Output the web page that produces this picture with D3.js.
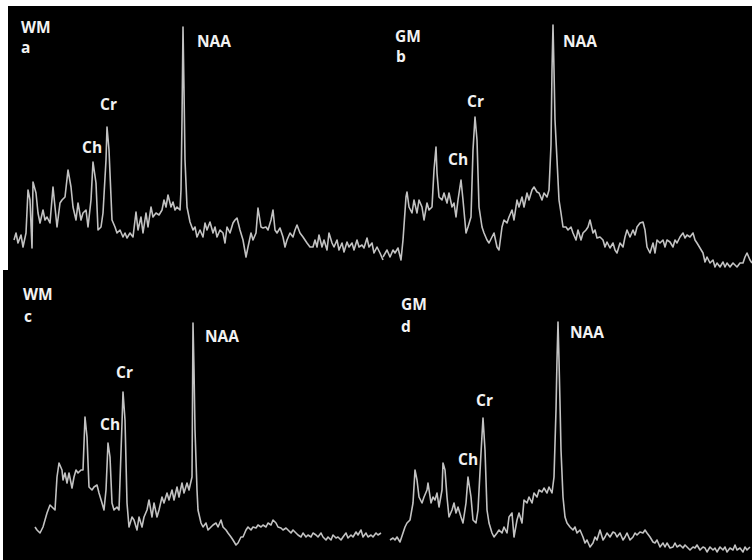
<!DOCTYPE html>
<html>
<head>
<meta charset="utf-8">
<script src="https://cdn.jsdelivr.net/npm/d3@7"></script>
<style>
  html, body { margin: 0; padding: 0; background: #fff; }
  .spectrum { fill: none; stroke: #c2c2c2; stroke-width: 1.6; stroke-linejoin: round; }
  .peak-label { fill: #f2f2f2; font-family: "Open Sans", sans-serif; font-weight: 700; font-size: 15.5px; }
</style>
</head>
<body>
<svg id="chart" width="752" height="560"></svg>
<script>
// spectral point (x) and signal amplitude (y)
const shiftA = [
  14, 16, 18, 21, 23, 26, 28, 30, 32, 33,
  36, 38, 40, 43, 45, 47, 50, 53, 55, 57,
  60, 62, 65, 68, 71, 73, 76, 78, 81, 83,
  86, 88, 91, 93, 96, 98, 101, 103, 106, 107,
  109, 112, 115, 117, 120, 123, 125, 127, 130, 133,
  136, 138, 141, 143, 146, 148, 151, 153, 156, 159,
  162, 164, 166, 168, 171, 173, 175, 177, 180, 181,
  182, 183, 184, 185, 187, 190, 193, 195, 197, 200,
  203, 205, 207, 210, 213, 215, 217, 220, 223, 225,
  227, 230, 233, 235, 237, 240, 243, 246, 248, 251,
  253, 256, 258, 261, 263, 266, 268, 271, 273, 275,
  277, 280, 283, 285, 287, 290, 293, 295, 297, 300,
  303, 305, 307, 310, 313, 315, 317, 319, 322, 324,
  327, 329, 332, 334, 337, 339, 342, 344, 347, 349,
  352, 354, 357, 359, 362, 364, 367, 369, 372, 374,
  377, 380, 383
];
const ampA = [
  30, 37, 27, 35, 23, 37, 80, 70, 22, 88,
  77, 57, 47, 60, 50, 53, 47, 83, 63, 43,
  67, 70, 73, 100, 83, 63, 50, 67, 50, 57,
  60, 43, 70, 108, 87, 40, 43, 57, 110, 143,
  120, 50, 43, 37, 40, 33, 37, 32, 37, 33,
  58, 40, 53, 37, 57, 43, 63, 53, 57, 55,
  60, 70, 63, 75, 63, 68, 60, 63, 60, 80,
  150, 243, 180, 110, 63, 48, 40, 43, 33, 40,
  33, 47, 40, 48, 37, 43, 33, 40, 37, 27,
  43, 37, 47, 50, 52, 40, 30, 13, 23, 37,
  30, 37, 62, 43, 42, 43, 40, 50, 60, 40,
  37, 42, 33, 23, 30, 37, 33, 40, 45, 37,
  33, 30, 27, 23, 23, 30, 23, 35, 23, 30,
  20, 37, 27, 23, 30, 20, 27, 18, 28, 23,
  27, 20, 30, 23, 25, 22, 32, 23, 27, 17,
  23, 17, 10
];

const shiftB = [
  3, 7, 10, 13, 15, 18, 21, 23, 26, 27,
  29, 32, 34, 37, 39, 42, 44, 47, 49, 52,
  54, 56, 57, 59, 62, 64, 67, 69, 72, 74,
  76, 78, 81, 83, 86, 88, 91, 93, 95, 97,
  99, 102, 104, 107, 109, 112, 114, 117, 119, 122,
  124, 127, 129, 132, 134, 137, 139, 142, 144, 147,
  149, 152, 154, 157, 159, 162, 164, 167, 169, 171,
  172, 173, 174, 175, 177, 179, 181, 183, 186, 188,
  191, 193, 196, 198, 201, 203, 206, 208, 210, 213,
  215, 217, 220, 223, 225, 227, 230, 233, 235, 237,
  240, 243, 245, 247, 250, 253, 255, 257, 260, 263,
  265, 267, 270, 273, 275, 277, 280, 283, 285, 287,
  290, 293, 295, 297, 300, 303, 305, 307, 310, 313,
  315, 317, 320, 323, 325, 327, 330, 333, 335, 337,
  340, 343, 345, 347, 350, 353, 355, 357, 360, 363,
  365, 367, 370, 372
];
const ampB = [
  13, 20, 13, 20, 17, 22, 10, 30, 73, 78,
  63, 57, 70, 57, 70, 63, 50, 67, 60, 63,
  100, 123, 97, 73, 70, 77, 67, 77, 63, 67,
  53, 70, 90, 70, 37, 43, 53, 120, 153, 130,
  63, 43, 37, 30, 27, 33, 37, 23, 20, 43,
  50, 47, 53, 60, 50, 70, 63, 73, 63, 77,
  70, 80, 83, 78, 77, 70, 77, 73, 80, 125,
  200, 245, 200, 150, 110, 70, 57, 43, 43, 40,
  43, 37, 30, 40, 30, 37, 40, 43, 50, 37,
  40, 32, 33, 30, 23, 28, 22, 27, 20, 17,
  27, 23, 33, 40, 33, 40, 35, 43, 47, 48,
  40, 23, 17, 27, 17, 30, 27, 30, 23, 30,
  28, 23, 30, 27, 33, 37, 32, 35, 33, 37,
  30, 27, 22, 17, 8, 13, 7, 10, 3, 7,
  3, 8, 3, 7, 3, 7, 5, 3, 7, 7,
  13, 17, 10, 7
];

const shiftC = [
  35, 37, 40, 43, 45, 47, 50, 53, 55, 57,
  59, 62, 63, 65, 67, 69, 72, 74, 76, 78,
  81, 83, 85, 87, 89, 92, 94, 97, 99, 102,
  104, 106, 108, 110, 112, 114, 117, 119, 122, 123,
  125, 127, 129, 132, 134, 137, 139, 142, 144, 147,
  149, 152, 154, 157, 159, 162, 164, 167, 169, 172,
  174, 177, 179, 182, 184, 187, 189, 192, 193, 194,
  195, 197, 198, 201, 203, 206, 208, 211, 213, 216,
  218, 221, 223, 226, 228, 231, 233, 236, 238, 241,
  243, 246, 248, 251, 253, 256, 258, 261, 263, 266,
  268, 271, 273, 276, 278, 281, 283, 286, 288, 291,
  293, 296, 298, 301, 303, 306, 308, 311, 313, 316,
  318, 321, 323, 326, 328, 331, 333, 336, 338, 341,
  343, 346, 348, 351, 353, 356, 358, 361, 363, 366,
  368, 371, 373, 376, 378, 381
];
const ampC = [
  33, 30, 27, 33, 40, 47, 55, 52, 50, 83,
  97, 90, 80, 87, 77, 87, 72, 83, 90, 87,
  90, 90, 143, 123, 73, 70, 73, 75, 67, 57,
  50, 70, 117, 103, 57, 50, 53, 50, 137, 168,
  140, 57, 33, 43, 40, 30, 43, 33, 43, 50,
  60, 43, 57, 43, 50, 63, 57, 67, 60, 70,
  60, 73, 63, 77, 67, 77, 70, 83, 237, 190,
  130, 70, 50, 37, 33, 37, 30, 33, 35, 37,
  33, 40, 33, 30, 27, 23, 20, 15, 17, 23,
  23, 30, 33, 30, 33, 32, 35, 33, 35, 33,
  37, 35, 40, 37, 33, 32, 30, 32, 30, 27,
  30, 27, 25, 23, 27, 23, 25, 23, 27, 25,
  23, 27, 23, 20, 23, 20, 25, 22, 23, 20,
  23, 27, 22, 25, 23, 28, 25, 30, 23, 27,
  23, 25, 23, 27, 25, 27
];

const shiftD = [
  10, 13, 15, 17, 20, 23, 25, 27, 30, 33,
  35, 37, 39, 42, 44, 47, 48, 51, 53, 55,
  57, 59, 62, 63, 65, 67, 69, 72, 74, 76,
  78, 81, 83, 86, 88, 91, 93, 96, 98, 101,
  103, 105, 107, 109, 112, 114, 117, 119, 122, 124,
  127, 129, 132, 134, 137, 139, 142, 144, 147, 149,
  152, 154, 157, 159, 162, 164, 167, 169, 172, 174,
  176, 177, 178, 179, 180, 181, 183, 185, 187, 190,
  193, 195, 197, 200, 203, 205, 207, 210, 213, 215,
  217, 220, 223, 225, 227, 230, 233, 235, 237, 240,
  243, 245, 247, 250, 253, 255, 257, 260, 263, 265,
  267, 270, 273, 275, 277, 280, 283, 285, 287, 290,
  293, 295, 297, 300, 303, 305, 307, 310, 313, 315,
  317, 320, 323, 325, 327, 330, 333, 335, 337, 340,
  343, 345, 347, 350, 353, 355, 357, 360, 363, 365,
  367, 370
];
const ampD = [
  20, 22, 20, 23, 18, 27, 33, 37, 40, 57,
  90, 80, 63, 57, 63, 70, 77, 57, 63, 60,
  67, 53, 70, 97, 90, 63, 43, 50, 57, 47,
  53, 43, 37, 57, 83, 63, 40, 37, 50, 107,
  142, 110, 50, 37, 27, 23, 27, 30, 27, 33,
  27, 43, 47, 23, 40, 47, 37, 60, 57, 63,
  57, 67, 63, 70, 68, 72, 67, 73, 67, 83,
  150, 200, 238, 200, 157, 110, 63, 43, 37, 33,
  30, 33, 27, 30, 23, 17, 20, 13, 17, 23,
  20, 30, 20, 23, 27, 23, 28, 27, 23, 27,
  20, 23, 27, 20, 23, 27, 25, 28, 27, 30,
  27, 23, 18, 17, 20, 13, 17, 13, 17, 12,
  13, 17, 13, 15, 12, 15, 13, 10, 13, 12,
  15, 10, 13, 12, 8, 13, 10, 12, 8, 13,
  10, 13, 8, 12, 10, 15, 10, 12, 8, 13,
  10, 13
];

// annotations: [text, spectral point, amplitude of baseline]
const labelsA = [["WM", 21, 237], ["a", 21, 217], ["Cr", 100, 160], ["Ch", 82, 117], ["NAA", 197, 223]];
const labelsB = [["GM", 15, 228], ["b", 16, 208], ["Cr", 87, 163], ["Ch", 68, 105], ["NAA", 183, 223]];
const labelsC = [["WM", 23, 260], ["c", 24, 238], ["Cr", 116, 182], ["Ch", 100, 130], ["NAA", 205, 218]];
const labelsD = [["GM", 21, 250], ["d", 21, 228], ["Cr", 96, 154], ["Ch", 78, 95], ["NAA", 190, 222]];

const panels = [
  { xs: shiftA, ys: ampA, labels: labelsA, left: 0, top: 0, w: 380, h: 270, bgLeft: 8, bgTop: 6 },
  { xs: shiftB, ys: ampB, labels: labelsB, left: 380, top: 0, w: 372, h: 270, bgLeft: 380, bgTop: 6 },
  { xs: shiftC, ys: ampC, labels: labelsC, left: 0, top: 270, w: 380, h: 290, bgLeft: 3, bgTop: 270 },
  { xs: shiftD, ys: ampD, labels: labelsD, left: 380, top: 270, w: 372, h: 290, bgLeft: 380, bgTop: 270 }
];

const svg = d3.select("#chart");

// slight softening, the source spectra are scanned
svg.append("defs")
  .append("filter")
  .attr("id", "soft")
  .append("feGaussianBlur")
  .attr("stdDeviation", 0.35);

// black backgrounds first so no panel covers a neighbour's trace
panels.forEach((p) => {
  svg.append("rect")
    .attr("x", p.bgLeft)
    .attr("y", p.bgTop)
    .attr("width", p.left + p.w - p.bgLeft)
    .attr("height", p.top + p.h - p.bgTop)
    .attr("fill", "#000");
});

panels.forEach((p) => {
  const x = d3.scaleLinear().domain([0, p.w]).range([p.left, p.left + p.w]);
  const y = d3.scaleLinear().domain([0, p.h]).range([p.top + p.h, p.top]);

  const line = d3.line()
    .x((d) => x(d[0]))
    .y((d) => y(d[1]));

  const g = svg.append("g");

  g.append("path")
    .attr("class", "spectrum")
    .attr("filter", "url(#soft)")
    .attr("d", line(d3.zip(p.xs, p.ys)));

  g.selectAll("text")
    .data(p.labels)
    .join("text")
    .attr("class", "peak-label")
    .attr("x", (d) => x(d[1]))
    .attr("y", (d) => y(d[2]))
    .text((d) => d[0]);
});
</script>
</body>
</html>
